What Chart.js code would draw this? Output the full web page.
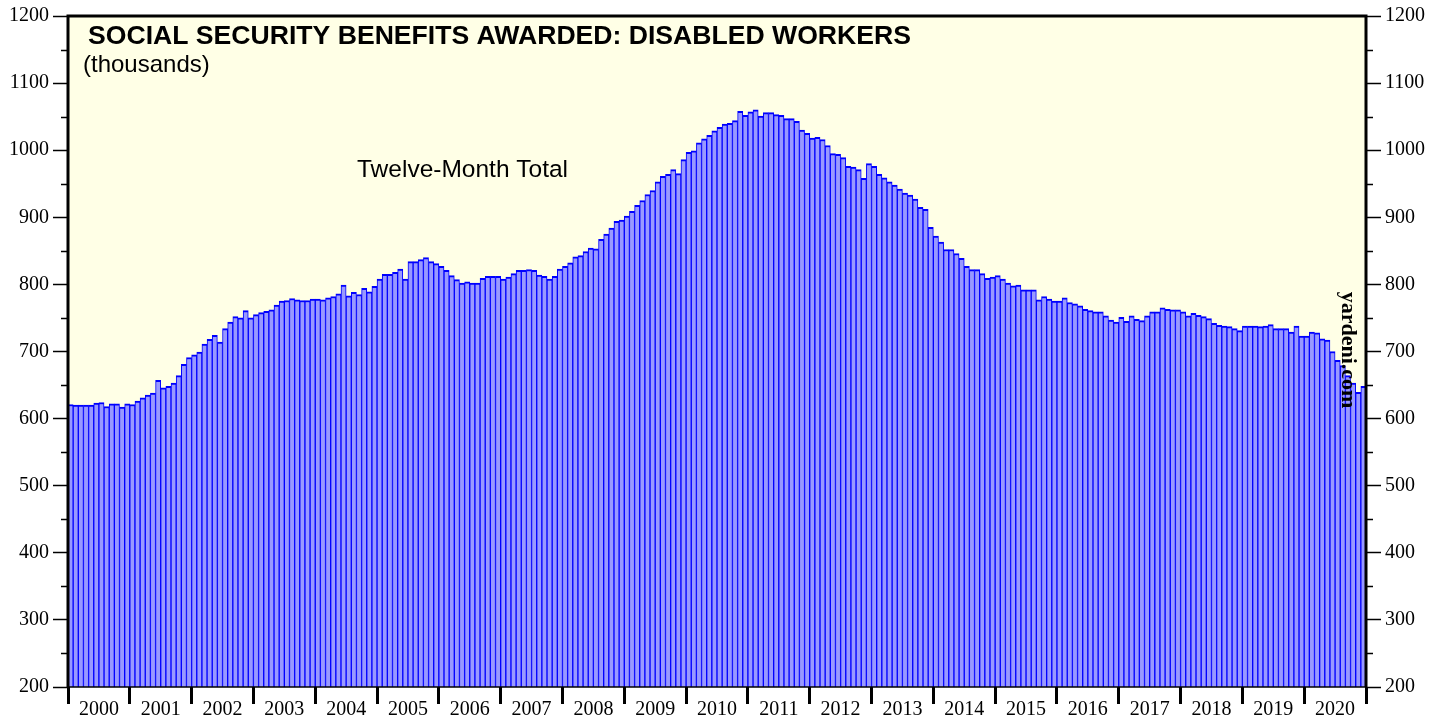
<!DOCTYPE html>
<html>
<head>
<meta charset="utf-8">
<script src="https://cdn.jsdelivr.net/npm/chart.js@4.4.0/dist/chart.umd.min.js"></script>
<style>
  body { margin: 0; background: #fff; }
</style>
</head>
<body>
<canvas id="awardsChart" width="1446" height="721"></canvas>
<script>
// year labels for the bottom axis
const years = ['2000', '2001', '2002', '2003', '2004', '2005', '2006', '2007', '2008', '2009', '2010',
  '2011', '2012', '2013', '2014', '2015', '2016', '2017', '2018', '2019', '2020'];

// twelve-month total of awards, thousands, Jan..Dec of each year
const y2000 = [621, 620, 620, 620, 620, 623, 624, 618, 622, 622, 617, 622];
const y2001 = [621, 626, 631, 635, 638, 657, 646, 648, 653, 664, 681, 691];
const y2002 = [695, 699, 711, 718, 724, 714, 734, 744, 752, 750, 761, 750];
const y2003 = [755, 758, 760, 762, 769, 775, 776, 779, 777, 776, 776, 778];
const y2004 = [778, 777, 780, 782, 786, 799, 783, 788, 785, 794, 789, 797];
const y2005 = [808, 815, 815, 818, 823, 808, 834, 834, 837, 840, 834, 831];
const y2006 = [827, 821, 813, 807, 802, 804, 802, 802, 809, 812, 812, 812];
const y2007 = [808, 811, 816, 821, 821, 822, 821, 814, 812, 808, 812, 823];
const y2008 = [827, 832, 841, 843, 849, 854, 853, 867, 875, 884, 894, 896];
const y2009 = [902, 909, 918, 925, 934, 940, 953, 961, 964, 971, 965, 986];
const y2010 = [997, 999, 1011, 1017, 1022, 1029, 1034, 1039, 1040, 1044, 1058, 1052];
const y2011 = [1057, 1060, 1051, 1056, 1056, 1053, 1052, 1047, 1047, 1043, 1030, 1025];
const y2012 = [1018, 1019, 1016, 1007, 995, 994, 989, 976, 975, 971, 958, 980];
const y2013 = [976, 964, 959, 953, 948, 942, 936, 933, 927, 915, 912, 885];
const y2014 = [872, 863, 852, 852, 846, 839, 827, 822, 822, 816, 809, 811];
const y2015 = [813, 808, 802, 798, 799, 792, 792, 792, 777, 782, 778, 775];
const y2016 = [775, 780, 773, 771, 768, 763, 761, 759, 759, 753, 747, 744];
const y2017 = [751, 745, 753, 748, 746, 753, 759, 759, 765, 763, 762, 762];
const y2018 = [759, 753, 757, 754, 752, 749, 742, 739, 738, 737, 734, 731];
const y2019 = [738, 738, 738, 737, 738, 740, 734, 734, 734, 729, 738, 723];
const y2020 = [723, 729, 728, 719, 717, 700, 687, 679, 664, 653, 639, 648];

const yTicks = [200, 300, 400, 500, 600, 700, 800, 900, 1000, 1100, 1200];

const values = [].concat(y2000, y2001, y2002, y2003, y2004, y2005, y2006, y2007, y2008, y2009, y2010,
  y2011, y2012, y2013, y2014, y2015, y2016, y2017, y2018, y2019, y2020);
const months = [];
years.forEach((yr) => {
  for (let m = 1; m <= 12; m++) months.push(yr + '-' + m);
});
const nMonths = months.length;

const serif = '"Liberation Serif", "Times New Roman", serif';
const sans = '"Liberation Sans", Arial, sans-serif';

// yellow plot area, thick frame, and the small in-between ticks
const framePlugin = {
  id: 'frame',
  beforeDraw(chart) {
    const { ctx, chartArea: { left, top, right, bottom } } = chart;
    ctx.save();
    ctx.fillStyle = '#FFFFE6';
    ctx.fillRect(left, top, right - left, bottom - top);
    ctx.restore();
  },
  afterDraw(chart) {
    const { ctx, chartArea: { left, top, right, bottom } } = chart;
    const yScale = chart.scales.y;
    ctx.save();
    ctx.strokeStyle = '#000';
    ctx.lineWidth = 1.5;
    ctx.beginPath();
    for (let v = 250; v < 1200; v += 100) {
      const py = Math.round(yScale.getPixelForValue(v)) + 0.5;
      ctx.moveTo(left - 7, py);
      ctx.lineTo(left, py);
      ctx.moveTo(right, py);
      ctx.lineTo(right + 7, py);
    }
    ctx.stroke();

    ctx.lineWidth = 3;
    ctx.beginPath();
    ctx.moveTo(left, bottom);
    ctx.lineTo(left, top);
    ctx.lineTo(right, top);
    ctx.lineTo(right, bottom);
    ctx.stroke();
    ctx.lineWidth = 1.5;
    ctx.beginPath();
    ctx.moveTo(left, bottom);
    ctx.lineTo(right, bottom);
    ctx.stroke();
    ctx.restore();
  }
};

const textPlugin = {
  id: 'labels',
  afterDatasetsDraw(chart) {
    const { ctx } = chart;
    ctx.save();
    ctx.fillStyle = '#000';
    ctx.textAlign = 'left';
    ctx.textBaseline = 'alphabetic';
    ctx.font = 'bold 26.6px ' + sans;
    ctx.fillText('SOCIAL SECURITY BENEFITS AWARDED: DISABLED WORKERS', 88, 44);
    ctx.font = '24px ' + sans;
    ctx.fillText('(thousands)', 83, 72);
    ctx.font = '24.5px ' + sans;
    ctx.fillText('Twelve-Month Total', 357, 177);

    // rotated source note
    ctx.translate(1348, 350);
    ctx.rotate(Math.PI / 2);
    ctx.font = 'bold 22px ' + serif;
    ctx.textAlign = 'center';
    ctx.textBaseline = 'middle';
    ctx.fillText('yardeni.com', 0, 0);
    ctx.restore();
  }
};

const ctx = document.getElementById('awardsChart').getContext('2d');
new Chart(ctx, {
  type: 'bar',
  data: {
    labels: months,
    datasets: [
      {
        data: values,
        backgroundColor: '#9999FF',
        borderColor: '#0000FF',
        borderWidth: { top: 2, left: 1, right: 1, bottom: 0 },
        barPercentage: 1,
        categoryPercentage: 1,
        xAxisID: 'x',
        yAxisID: 'y',
      },
    ],
  },
  options: {
    responsive: false,
    devicePixelRatio: 1,
    animation: false,
    layout: { padding: { top: 15, left: 0, right: 0, bottom: 0 } },
    scales: {
      x: {
        display: false,
        offset: true,
      },
      years: {
        type: 'linear',
        position: 'bottom',
        min: 0,
        max: nMonths,
        offset: false,
        afterFit(scale) { scale.height = 34; },
        afterBuildTicks(scale) {
          const t = [];
          for (let v = 0; v <= nMonths; v += 6) t.push({ value: v });
          scale.ticks = t;
        },
        ticks: {
          autoSkip: false,
          maxRotation: 0,
          padding: -6,
          color: '#000',
          font: { family: serif, size: 20 },
          callback: (v) => (v % 12 === 6 ? years[(v - 6) / 12] : ''),
        },
        grid: {
          offset: false,
          drawOnChartArea: false,
          tickLength: 17,
          tickWidth: 3,
          tickColor: (c) => (c.tick && c.tick.value % 12 === 0 ? '#000' : 'rgba(0,0,0,0)'),
        },
        border: { display: false },
      },
      y: {
        position: 'left',
        min: 200,
        max: 1200,
        afterFit(scale) { scale.width = 68; },
        afterBuildTicks(scale) { scale.ticks = yTicks.map((v) => ({ value: v })); },
        ticks: {
          padding: 4,
          color: '#000',
          font: { family: serif, size: 20 },
          callback: (v) => String(v),
        },
        grid: {
          drawOnChartArea: false,
          tickLength: 15,
          tickWidth: 1.5,
          tickColor: '#000',
        },
        border: { display: false },
      },
      y2: {
        position: 'right',
        min: 200,
        max: 1200,
        afterFit(scale) { scale.width = 80; },
        afterBuildTicks(scale) { scale.ticks = yTicks.map((v) => ({ value: v })); },
        ticks: {
          padding: 4,
          color: '#000',
          font: { family: serif, size: 20 },
          callback: (v) => String(v),
        },
        grid: {
          drawOnChartArea: false,
          tickLength: 15,
          tickWidth: 1.5,
          tickColor: '#000',
        },
        border: { display: false },
      },
    },
    plugins: {
      legend: { display: false },
      tooltip: { enabled: false },
      title: { display: false },
    },
  },
  plugins: [framePlugin, textPlugin],
});
</script>
</body>
</html>
